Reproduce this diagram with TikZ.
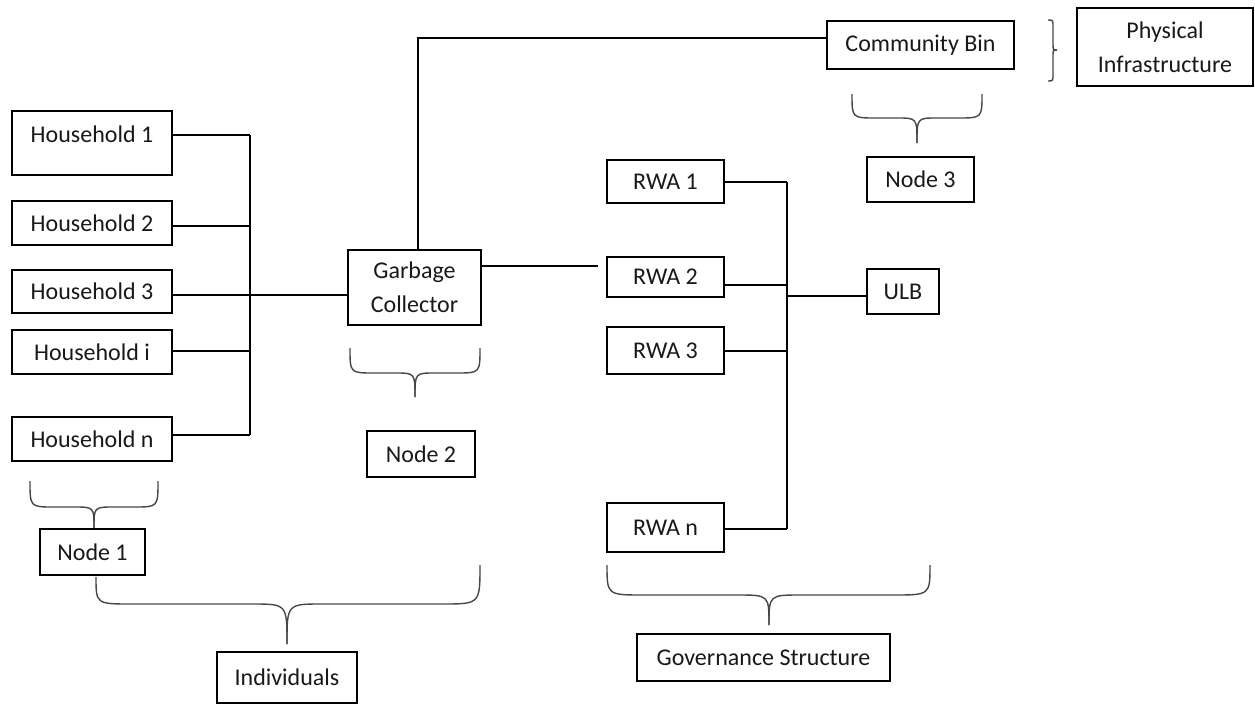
\documentclass[tikz,border=0pt]{standalone}
\usepackage{fontspec}
\setmainfont{Carlito}
\begin{document}
\begin{tikzpicture}[x=1pt,y=-1pt,
  box/.style={draw=black, line width=1.4pt, fill=white, inner sep=0pt, align=center,
    font=\fontsize{24}{34}\selectfont, text=black!90},
  txt/.style={inner sep=0pt, align=center, font=\fontsize{24}{34}\selectfont, text=black!90},
  link/.style={draw=black, line width=1.4pt},
  brc/.style={draw=black!72, line width=1.4pt}]
\useasboundingbox[fill=white] (0,0) rectangle (1255,704);
% households
\node[box, minimum width=160, minimum height=64] (hh1) at (92,143) {};
\node[txt] (hh1t) at (92,134) {Household 1};
\node[box, minimum width=160, minimum height=44] (hh2) at (92,223) {Household 2};
\node[box, minimum width=160, minimum height=43] (hh3) at (92,291.5) {Household 3};
\node[box, minimum width=160, minimum height=44] (hhi) at (92,352) {Household i};
\node[box, minimum width=160, minimum height=44] (hhn) at (92,439) {Household n};
% garbage collector etc.
\node[box, minimum width=133, minimum height=75] (gc) at (414.5,287.5) {Garbage\\Collector};
\node[box, minimum width=108, minimum height=46] (node2) at (421,454) {Node 2};
\node[box, minimum width=105, minimum height=46] (node1) at (92.5,552) {Node 1};
\node[box, minimum width=140, minimum height=51] (indiv) at (287,677.5) {Individuals};
\node[box, minimum width=187, minimum height=48] (cb) at (920.5,45) {Community Bin};
\node[box, minimum width=176, minimum height=78] (phys) at (1165,47) {Physical\\Infrastructure};
\node[box, minimum width=107, minimum height=45] (node3) at (920.5,179.5) {Node 3};
\node[box, minimum width=117, minimum height=43] (rwa1) at (665.5,181.5) {RWA 1};
\node[box, minimum width=117, minimum height=40] (rwa2) at (665.5,277) {RWA 2};
\node[box, minimum width=117, minimum height=47] (rwa3) at (665.5,350.5) {RWA 3};
\node[box, minimum width=117, minimum height=49] (rwan) at (665.5,527.5) {RWA n};
\node[box, minimum width=72, minimum height=45] (ulb) at (903,291.5) {ULB};
\node[box, minimum width=253, minimum height=47] (gov) at (763.5,657.5) {Governance Structure};
% left bus
\coordinate (lbt) at (250,135);
\coordinate (lbb) at (250,435);
\draw[link] (lbt) -- (lbb);
\draw[link] (hh1.east |- lbt) -- (lbt);
\draw[link] (hh2.east |- 0,226) -- (250,226);
\draw[link] (hh3.east |- 0,295) -- (250,295);
\draw[link] (hhi.east |- 0,351) -- (250,351);
\draw[link] (hhn.east |- lbb) -- (lbb);
\draw[link] (250,295) -- (gc.west |- 0,295);
% gc to community bin
\coordinate (gctop) at (418,38);
\draw[link] (gc.north -| gctop) -- (gctop) -- (cb.west |- gctop);
% gc to rwa2
\coordinate (gcend) at (598,266);
\draw[link] (gc.east |- gcend) -- (gcend);
% right bus
\coordinate (rbt) at (787,182);
\coordinate (rbb) at (787,529);
\draw[link] (rbt) -- (rbb);
\draw[link] (rwa1.east |- rbt) -- (rbt);
\draw[link] (rwa2.east |- 0,285) -- (787,285);
\draw[link] (rwa3.east |- 0,351) -- (787,351);
\draw[link] (rwan.east |- rbb) -- (rbb);
\draw[link] (787,296) -- (ulb.west |- 0,296);
% braces
% node 1 brace
\draw[brc] (30,481) .. controls (30,507) .. (54,507) -- (74,507) .. controls (94,507) .. (94,528);
\draw[brc] (158,481) .. controls (158,507) .. (134,507) -- (114,507) .. controls (94,507) .. (94,528);
% node 2 brace
\draw[brc] (350,348) .. controls (350,373) .. (374,373) -- (395,373) .. controls (415,373) .. (415,397);
\draw[brc] (480,348) .. controls (480,373) .. (456,373) -- (435,373) .. controls (415,373) .. (415,397);
% node 3 brace
\draw[brc] (852,94) .. controls (852,118) .. (876,118) -- (897,118) .. controls (917,118) .. (917,143);
\draw[brc] (982,94) .. controls (982,118) .. (958,118) -- (937,118) .. controls (917,118) .. (917,143);
% individuals brace
\draw[brc] (96,577) .. controls (96,604) .. (132,604) -- (252,604) .. controls (287,604) .. (287,644);
\draw[brc] (480,565) .. controls (480,604) .. (442,604) -- (322,604) .. controls (287,604) .. (287,644);
% governance brace
\draw[brc] (607,565) .. controls (607,595) .. (644,595) -- (737,595) .. controls (769,595) .. (769,625);
\draw[brc] (930,565) .. controls (930,595) .. (893,595) -- (801,595) .. controls (769,595) .. (769,625);
% physical infrastructure brace
\draw[brc] (1048,20) .. controls (1053,20) .. (1053,27) -- (1053,44) .. controls (1053,50) .. (1057,50);
\draw[brc] (1048,81) .. controls (1053,81) .. (1053,74) -- (1053,56) .. controls (1053,50) .. (1057,50);
\end{tikzpicture}
\end{document}
